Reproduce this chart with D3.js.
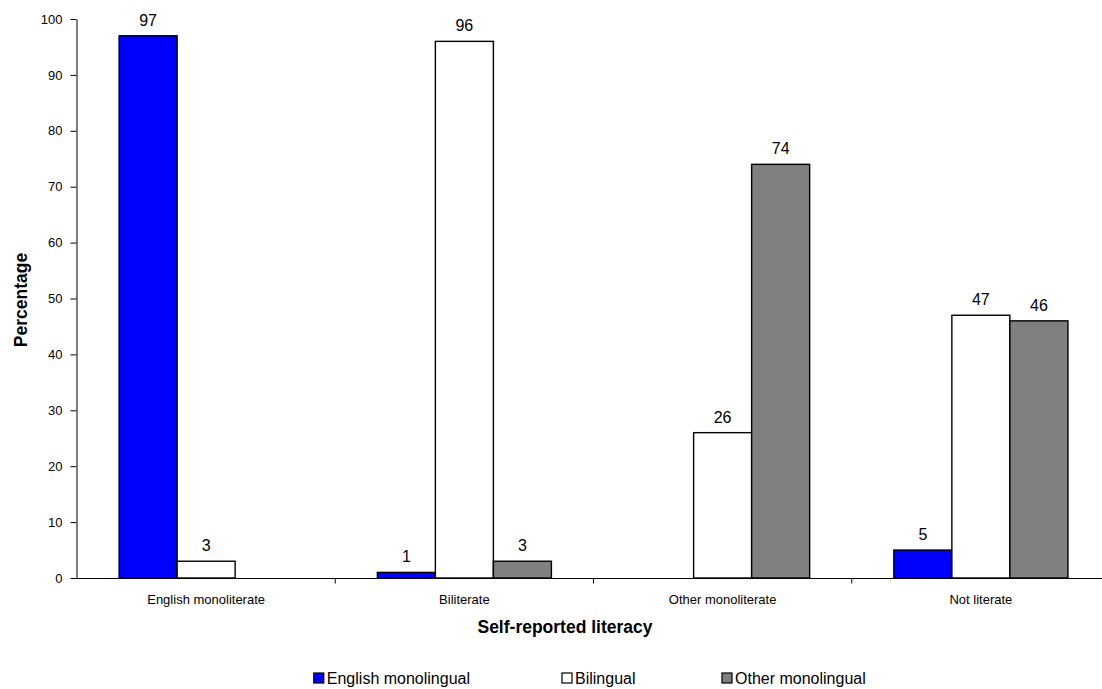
<!DOCTYPE html>
<html>
<head>
<meta charset="utf-8">
<script src="https://cdn.jsdelivr.net/npm/d3@7"></script>
<style>
  html, body { margin: 0; padding: 0; background: #fff; }
  svg { display: block; font-family: "Liberation Sans", Arial, Helvetica, sans-serif; }
</style>
</head>
<body>
<svg id="chart" width="1102" height="689"></svg>
<script>
// Self-reported literacy by language group (percent)
const categories = ["English monoliterate", "Biliterate", "Other monoliterate", "Not literate"];
const seriesNames = ["English monolingual", "Bilingual", "Other monolingual"];
const englishMonolingual = [97, 1, null, 5];
const bilingual = [3, 96, 26, 47];
const otherMonolingual = [null, 3, 74, 46];
const yTicks = [0, 10, 20, 30, 40, 50, 60, 70, 80, 90, 100];
const colors = ["#0000ff", "#ffffff", "#808080"];

const seriesValues = [englishMonolingual, bilingual, otherMonolingual];

const svg = d3.select("#chart");
const plotLeft = 77, plotTop = 19, plotBottom = 578, plotRight = 1110;

const x = d3.scaleBand().domain(categories).range([plotLeft, plotRight]).padding(0);
const inner = d3.scaleBand().domain(seriesNames)
  .range([x.bandwidth() * 0.163, x.bandwidth() * 0.837]).padding(0);
const y = d3.scaleLinear().domain([0, 100]).range([plotBottom, plotTop]);

// bars
const rows = [];
categories.forEach((c, i) => {
  seriesNames.forEach((s, j) => {
    const v = seriesValues[j][i];
    if (v !== null) rows.push({ c, s, v, j });
  });
});

svg.append("g").selectAll("rect").data(rows).join("rect")
  .attr("x", d => x(d.c) + inner(d.s))
  .attr("y", d => y(d.v))
  .attr("width", inner.bandwidth())
  .attr("height", d => y(0) - y(d.v))
  .attr("fill", d => colors[d.j])
  .attr("stroke", "#000")
  .attr("stroke-width", 1.4);

// value labels
svg.append("g").selectAll("text").data(rows).join("text")
  .attr("x", d => x(d.c) + inner(d.s) + inner.bandwidth() / 2)
  .attr("y", d => y(d.v) - 10)
  .attr("text-anchor", "middle")
  .attr("font-size", 16)
  .attr("fill", "#000")
  .text(d => d.v);

// y axis
const yAxis = svg.append("g")
  .attr("transform", `translate(${plotLeft - 0.5},0)`)
  .call(d3.axisLeft(y).tickValues(yTicks).tickSize(6).tickPadding(8).tickSizeOuter(0));
yAxis.select(".domain").attr("stroke", "#000");
yAxis.selectAll(".tick line").attr("stroke", "#000");
yAxis.selectAll(".tick text").attr("font-size", 13).attr("fill", "#000")
  .attr("font-family", "'Liberation Sans', Arial, sans-serif");

// x axis
const xAxis = svg.append("g").attr("transform", `translate(0,${plotBottom + 0.5})`);
xAxis.append("line").attr("x1", plotLeft - 0.5).attr("x2", 1102)
  .attr("stroke", "#000");
xAxis.selectAll("line.tick").data(categories.slice(1)).join("line")
  .attr("class", "tick")
  .attr("x1", d => x(d)).attr("x2", d => x(d))
  .attr("y1", 0).attr("y2", 5).attr("stroke", "#000");
xAxis.selectAll("text").data(categories).join("text")
  .attr("x", d => x(d) + x.bandwidth() / 2)
  .attr("y", 25)
  .attr("text-anchor", "middle")
  .attr("font-size", 13)
  .attr("fill", "#000")
  .text(d => d);

// axis titles
svg.append("text")
  .attr("x", 565).attr("y", 633)
  .attr("text-anchor", "middle")
  .attr("font-size", 17.5).attr("font-weight", "bold")
  .text("Self-reported literacy");

svg.append("text")
  .attr("transform", "translate(27,300) rotate(-90)")
  .attr("text-anchor", "middle")
  .attr("font-size", 17.5).attr("font-weight", "bold")
  .text("Percentage");

// legend
const legend = svg.append("g").attr("font-size", 16);
const legendX = [null, 562, 722];
seriesNames.forEach((s, j) => {
  const g = legend.append("g");
  const t = g.append("text").attr("y", 684).attr("fill", "#000").text(s);
  let sx;
  if (j === 0) {
    const w = t.node().getComputedTextLength();
    sx = 470 - w - 13;
  } else {
    sx = legendX[j];
  }
  t.attr("x", sx + 13);
  g.append("rect")
    .attr("x", sx).attr("y", 673)
    .attr("width", 10).attr("height", 10)
    .attr("fill", colors[j]).attr("stroke", "#000").attr("stroke-width", 1.2);
});
</script>
</body>
</html>
